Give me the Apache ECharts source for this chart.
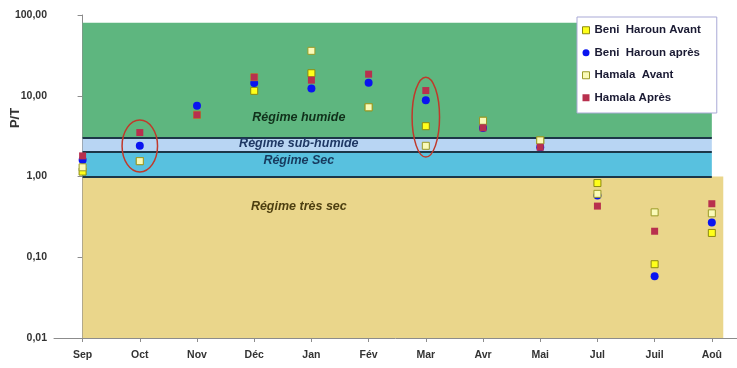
<!DOCTYPE html>
<html>
<head>
<meta charset="utf-8">
<script src="https://cdn.jsdelivr.net/npm/echarts@6/dist/echarts.min.js"></script>
<style>
  html, body { margin: 0; padding: 0; background: #fff; }
  #chart { width: 737px; height: 368px; }
</style>
</head>
<body>
<div id="chart"></div>
<script>
// Monthly P/T ratios, before/after, for the two sites
const months = ['Sep', 'Oct', 'Nov', 'Déc', 'Jan', 'Fév', 'Mar', 'Avr', 'Mai', 'Jul', 'Juil', 'Aoû'];
const beniAvant   = [1.15, 1.55, 5.8, 11.5, 19.0, 7.2, 4.2, 4.9, 2.8, 0.83, 0.082, 0.20];
const beniApres   = [1.6, 2.4, 7.5, 14.4, 12.3, 14.5, 8.8, 4.0, 2.3, 0.58, 0.058, 0.27];
const hamalaAvant = [1.3, 1.55, 5.8, 17.0, 36.0, 7.2, 2.4, 4.9, 2.8, 0.61, 0.36, 0.35];
const hamalaApres = [1.8, 3.5, 5.8, 17.0, 15.6, 18.5, 11.6, 4.0, 2.3, 0.43, 0.21, 0.46];
const yTicks = [0.01, 0.1, 1, 10, 100];

// Climate regime bands (P/T thresholds)
const regimes = [
  { name: 'Régime très sec',   low: 0.01, high: 1,  end: 11.2, fill: '#EAD68B', ink: '#4d3f10', labelAt: 0.43 },
  { name: 'Régime Sec',        low: 1,    high: 2,  end: 11,   fill: '#58C1DF', ink: '#173a5e', labelAt: 1.58 },
  { name: 'Régime sub-humide', low: 2,    high: 3,  end: 11,   fill: '#B8D5F3', ink: '#1f3864', labelAt: 2.55 },
  { name: 'Régime humide',     low: 3,    high: 80, end: 11,   fill: '#5EB67F', ink: '#10301a', labelAt: 5.3 }
];
const thresholds = [1, 2, 3];

// Circled months
const highlights = [
  { month: 1, low: 1.14, high: 5.0, halfWidth: 0.31 },
  { month: 6, low: 1.74, high: 17.0, halfWidth: 0.24 }
];

const FONT = '"Liberation Sans", Arial, sans-serif';
const chart = echarts.init(document.getElementById('chart'), null, { renderer: 'canvas' });
const monthIdx = months.map((m, i) => i);

function fmt(v) {
  const d = yTicks.reduce((a, b) => Math.abs(b - v) < Math.abs(a - v) ? b : a);
  return d.toFixed(2).replace('.', ',');
}

const bandSeries = {
  name: 'bands',
  type: 'line',
  data: [],
  silent: true,
  z: 1,
  markArea: {
    silent: true,
    label: { show: false },
    itemStyle: { opacity: 1 },
    data: regimes.map(r => [
      { coord: [0, r.low], itemStyle: { color: r.fill, opacity: 1 } },
      { coord: [r.end, r.high] }
    ])
  },
  markLine: {
    silent: true,
    symbol: 'none',
    label: { show: false },
    lineStyle: { color: '#1c3748', width: 2, type: 'solid' },
    data: thresholds.map(t => [{ coord: [0, t] }, { coord: [11, t] }])
  }
};

function pointSeries(name, values, symbol, size, fill, border) {
  return {
    name: name,
    type: 'scatter',
    data: values.map((v, i) => [i, v]),
    symbol: symbol,
    symbolSize: size,
    z: 5,
    itemStyle: { color: fill, borderColor: border, borderWidth: border ? 1 : 0, opacity: 1 }
  };
}

const option = {
  animation: false,
  backgroundColor: '#ffffff',
  textStyle: { fontFamily: FONT },
  grid: { left: 54, top: 15, bottom: 30, right: 0, containLabel: false },
  legend: {
    orient: 'vertical',
    left: 577,
    top: 17,
    backgroundColor: '#ffffff',
    borderColor: '#a9a9d6',
    borderWidth: 1,
    padding: [7, 16, 9, 5],
    itemWidth: 7,
    itemHeight: 7,
    itemGap: 10,
    itemStyle: { borderWidth: 1 },
    textStyle: { fontFamily: FONT, fontSize: 11.5, fontWeight: 'bold', color: '#1a1a33', lineHeight: 12.5 },
    data: ['Beni  Haroun Avant', 'Beni  Haroun après', 'Hamala  Avant', 'Hamala Après']
  },
  xAxis: {
    type: 'value',
    min: -0.5,
    max: 11.44,
    axisLine: { onZero: false, lineStyle: { color: '#8c8c8c', width: 1 } },
    axisTick: { show: true, customValues: monthIdx, length: 4, lineStyle: { color: '#8c8c8c' } },
    axisLabel: {
      customValues: monthIdx,
      margin: 12, fontFamily: FONT, fontSize: 10.5, fontWeight: 'bold', color: '#333',
      formatter: v => months[Math.round(v)] || ''
    },
    splitLine: { show: false }
  },
  yAxis: {
    type: 'log',
    logBase: 10,
    min: 0.01,
    max: 100,
    axisLine: { show: true, lineStyle: { color: '#8c8c8c', width: 1 } },
    axisTick: { show: true, length: 5, lineStyle: { color: '#8c8c8c' } },
    axisLabel: { margin: 7, fontFamily: FONT, fontSize: 10.5, fontWeight: 'bold', color: '#333', formatter: fmt },
    splitLine: { show: false }
  },
  series: [
    bandSeries,
    pointSeries('Beni  Haroun Avant', beniAvant, 'rect', 7, '#FFFF1A', '#8c8a10'),
    pointSeries('Beni  Haroun après', beniApres, 'circle', 8, '#0a14F0', null),
    pointSeries('Hamala  Avant', hamalaAvant, 'rect', 7, '#FAFAB8', '#9a9a28'),
    pointSeries('Hamala Après', hamalaApres, 'rect', 7, '#B8304E', null)
  ]
};

chart.setOption(option);

// Annotations placed through the axes' own scales
function px(xVal, yVal) {
  return chart.convertToPixel({ gridIndex: 0 }, [xVal, yVal]);
}
const unit = px(1, 1)[0] - px(0, 1)[0];
const graphics = [];

regimes.forEach(r => {
  const p = px(3.78, r.labelAt);
  graphics.push({
    type: 'text',
    x: p[0], y: p[1],
    z: 10,
    style: {
      text: r.name,
      x: 0, y: 0,
      textAlign: 'center',
      textVerticalAlign: 'middle',
      font: 'italic bold 12.5px ' + FONT,
      fill: r.ink
    }
  });
});

highlights.forEach(h => {
  const top = px(h.month, h.high);
  const bot = px(h.month, h.low);
  graphics.push({
    type: 'ellipse',
    z: 20,
    shape: { cx: top[0], cy: (top[1] + bot[1]) / 2, rx: h.halfWidth * unit, ry: (bot[1] - top[1]) / 2 },
    style: { fill: 'none', stroke: '#c0392b', lineWidth: 1.5 }
  });
});

graphics.push({
  type: 'text',
  x: 15, y: 118,
  rotation: Math.PI / 2,
  z: 10,
  style: {
    text: 'P/T',
    x: 0, y: 0,
    textAlign: 'center',
    textVerticalAlign: 'middle',
    font: 'bold 13px ' + FONT,
    fill: '#333'
  }
});

chart.setOption({ graphic: graphics });
</script>
</body>
</html>
